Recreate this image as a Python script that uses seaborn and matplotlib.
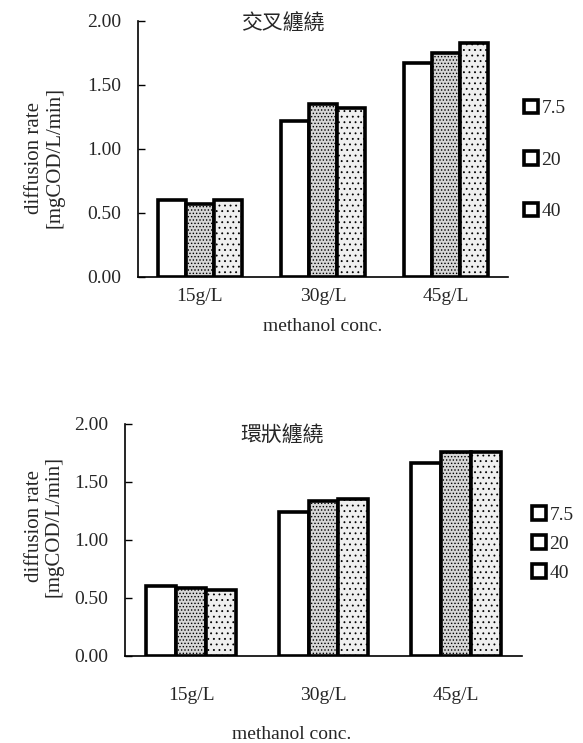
import matplotlib
matplotlib.use("Agg")
import matplotlib.pyplot as plt
import seaborn as sns
import pandas as pd
from matplotlib.patches import Patch
from matplotlib.ticker import FormatStrFormatter

sns.set_style("white")
plt.rcParams['font.family'] = ['Liberation Serif', 'Noto Sans CJK TC', 'DejaVu Sans']
plt.rcParams['hatch.linewidth'] = 0.6

categories = ["15g/L", "30g/L", "45g/L"]
series_names = ["7.5", "20", "40"]

top_title = "交叉纏繞"
top_s75 = [0.60, 1.22, 1.67]
top_s20 = [0.57, 1.35, 1.75]
top_s40 = [0.60, 1.32, 1.83]

bot_title = "環狀纏繞"
bot_s75 = [0.60, 1.24, 1.66]
bot_s20 = [0.59, 1.34, 1.76]
bot_s40 = [0.57, 1.35, 1.76]

y_ticks = [0.0, 0.5, 1.0, 1.5, 2.0]
xlabel = "methanol conc."
ylabel = "diffusion rate\n[mgCOD/L/min]"

fills = ['white', '#d6d6d6', '#efefef']
hatches = ['', '.....', '...']


def make_df(s1, s2, s3):
    rows = []
    for name, vals in zip(series_names, [s1, s2, s3]):
        for c, v in zip(categories, vals):
            rows.append({"conc": c, "rate": v, "temp": name})
    return pd.DataFrame(rows)


W, H = 583, 743
fig = plt.figure(figsize=(W / 100, H / 100), dpi=100)


def draw(ax_px, df, title, title_xy, tick_pad, xlabel_xy, ylabel_xy, leg_xy, leg_spacing):
    l, r, t, b = ax_px
    ax = fig.add_axes([l / W, 1 - b / H, (r - l) / W, (b - t) / H])
    sns.barplot(data=df, x="conc", y="rate", hue="temp", ax=ax, width=0.68,
                palette=fills, edgecolor='black', linewidth=2.6,
                legend=False, errorbar=None, saturation=1)
    for cont, h in zip(ax.containers, hatches):
        for bar in cont:
            bar.set_hatch(h)
    ax.set_xlim(-0.5, 2.5)
    ax.set_ylim(0, 2.0)
    ax.set_yticks(y_ticks)
    ax.yaxis.set_major_formatter(FormatStrFormatter('%.2f'))
    ax.set_xticks([0.5, 1.5, 2.5], minor=True)
    ax.tick_params(axis='x', which='major', length=0, pad=tick_pad, labelsize=14)
    ax.tick_params(axis='x', which='minor', direction='in', length=5, width=1, color='black')
    ax.tick_params(axis='y', which='major', direction='in', length=5, width=1,
                   color='black', labelsize=14, pad=12, left=True)
    for s in ['top', 'right']:
        ax.spines[s].set_visible(False)
    for s in ['left', 'bottom']:
        ax.spines[s].set_color('black')
        ax.spines[s].set_linewidth(1.2)
    ax.set_xlabel(xlabel, fontsize=14)
    ax.xaxis.set_label_coords(*xlabel_xy)
    ax.set_ylabel(ylabel, fontsize=15, linespacing=1.05)
    ax.yaxis.set_label_coords(*ylabel_xy)
    ax.text(title_xy[0], title_xy[1], title, transform=ax.transAxes, ha='center',
            va='center', fontsize=15, family=['Noto Sans CJK TC'])
    handles = [Patch(facecolor='white', edgecolor='black', linewidth=2.6) for _ in series_names]
    fig.legend(handles, series_names, loc='center left', bbox_to_anchor=leg_xy,
               frameon=False, fontsize=14, handlelength=0.7, handleheight=0.7,
               handletextpad=0.2, labelspacing=leg_spacing, borderpad=0, borderaxespad=0)
    return ax


draw((138, 508, 21, 277), make_df(top_s75, top_s20, top_s40), top_title,
     (0.39, 0.99), 8, (0.5, -0.16), (-0.2, 0.465), (524 / W, 1 - 160 / H), 1.75)

draw((125, 522, 424, 656), make_df(bot_s75, bot_s20, bot_s40), bot_title,
     (0.395, 0.95), 22, (0.42, -0.30), (-0.155, 0.56), (532 / W, 1 - 544 / H), 0.6)

fig.savefig("out.png", dpi=100)
